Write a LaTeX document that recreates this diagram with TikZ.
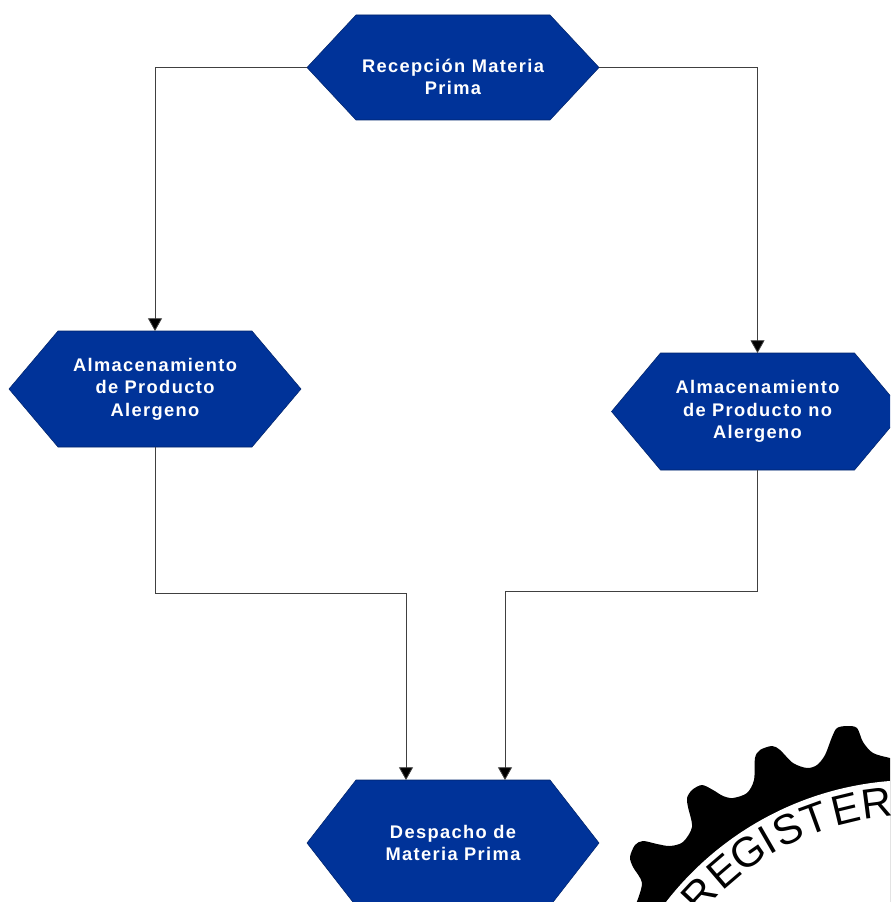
\documentclass[tikz,border=0pt]{standalone}
\usepackage{fontspec}
\setmainfont{Liberation Sans}
\newfontfamily\lblfont[LetterSpace=7.5]{Liberation Sans Bold}
\usetikzlibrary{arrows.meta}
\definecolor{hexblue}{RGB}{0,51,153}
\tikzset{
  hexshape/.style={fill=hexblue,draw=hexblue!70!black,line width=.4pt},
  hexbox/.style={rectangle,minimum width=219pt,inner sep=0pt,outer sep=0pt,
    text=white,align=center,font=\fontsize{13.7}{16.9}\selectfont\lblfont},
  conn/.style={draw=black!75,line width=.6pt},
  arr/.style={conn,-{Triangle[length=9.5pt,width=10.5pt,fill=black]}},
  gearletter/.style={anchor=base,inner sep=0pt,font=\fontsize{31.5}{32}\selectfont}
}
% name, x, y, half height, text
\newcommand{\hexnode}[5]{%
  \draw[hexshape,shift={(#2,#3)}] (-146,0) -- (-97,-#4) -- (97,-#4) -- (146,0) -- (97,#4) -- (-97,#4) -- cycle;
  \node[hexbox,minimum height=#4*1.5pt] (#1) at (#2,#3) {#5};
}
\begin{document}
\begin{tikzpicture}[x=.75pt,y=-.75pt]
\useasboundingbox (0,0) rectangle (890,902);
\clip (0,0) rectangle (890,902);
% gear
\fill[black] plot[smooth,tension=.5] coordinates {(636,904)(642,883)(633,867)(630,857)(635,845)(643,841)(657,844)(670,846)(683,842)(692,827)(688,807)(687,798)(692,790)(702,785)(713,790)(723,796)(733,798)(747,793)(754,780)(755,758)(760,750)(772,746)(780,750)(793,763)(807,768)(817,765)(825,755)(832,737)(837,728)(847,726)(857,728)(863,742)(873,753)(890,758)(900,760)}
 -- (900,904) -- cycle;
\fill[white] (915,1095) circle[radius=315];
\foreach \c/\a [count=\i] in {R/137,E/130.6,G/124.6,I/120,S/115.5,T/110,E/103.6,R/97.5}
  \node[gearletter,rotate=\a-90] (gl\i) at ({915+280*cos(\a)},{1095-280*sin(\a)}) {\c};
% nodes
\hexnode{rec}{453}{67.5}{52.5}{~\\[7pt]Recepción Materia\\Prima}
\hexnode{ale}{155}{389}{58}{Almacenamiento\\de Producto\\Alergeno}
\hexnode{noa}{757.5}{411.5}{58.5}{Almacenamiento\\de Producto no\\Alergeno}
\hexnode{des}{453}{843}{63}{Despacho de\\Materia Prima}
\coordinate (i1) at (406,780);
\coordinate (i2) at (505,780);
\coordinate (m1) at (155,593);
\coordinate (m2) at (757.5,591);
% connectors
\draw[arr] (rec.west) -| (ale.north);
\draw[arr] (rec.east) -| (noa.north);
\draw[arr] (ale.south) -- (m1) -| (i1);
\draw[arr] (noa.south) -- (m2) -| (i2);
\end{tikzpicture}
\end{document}
